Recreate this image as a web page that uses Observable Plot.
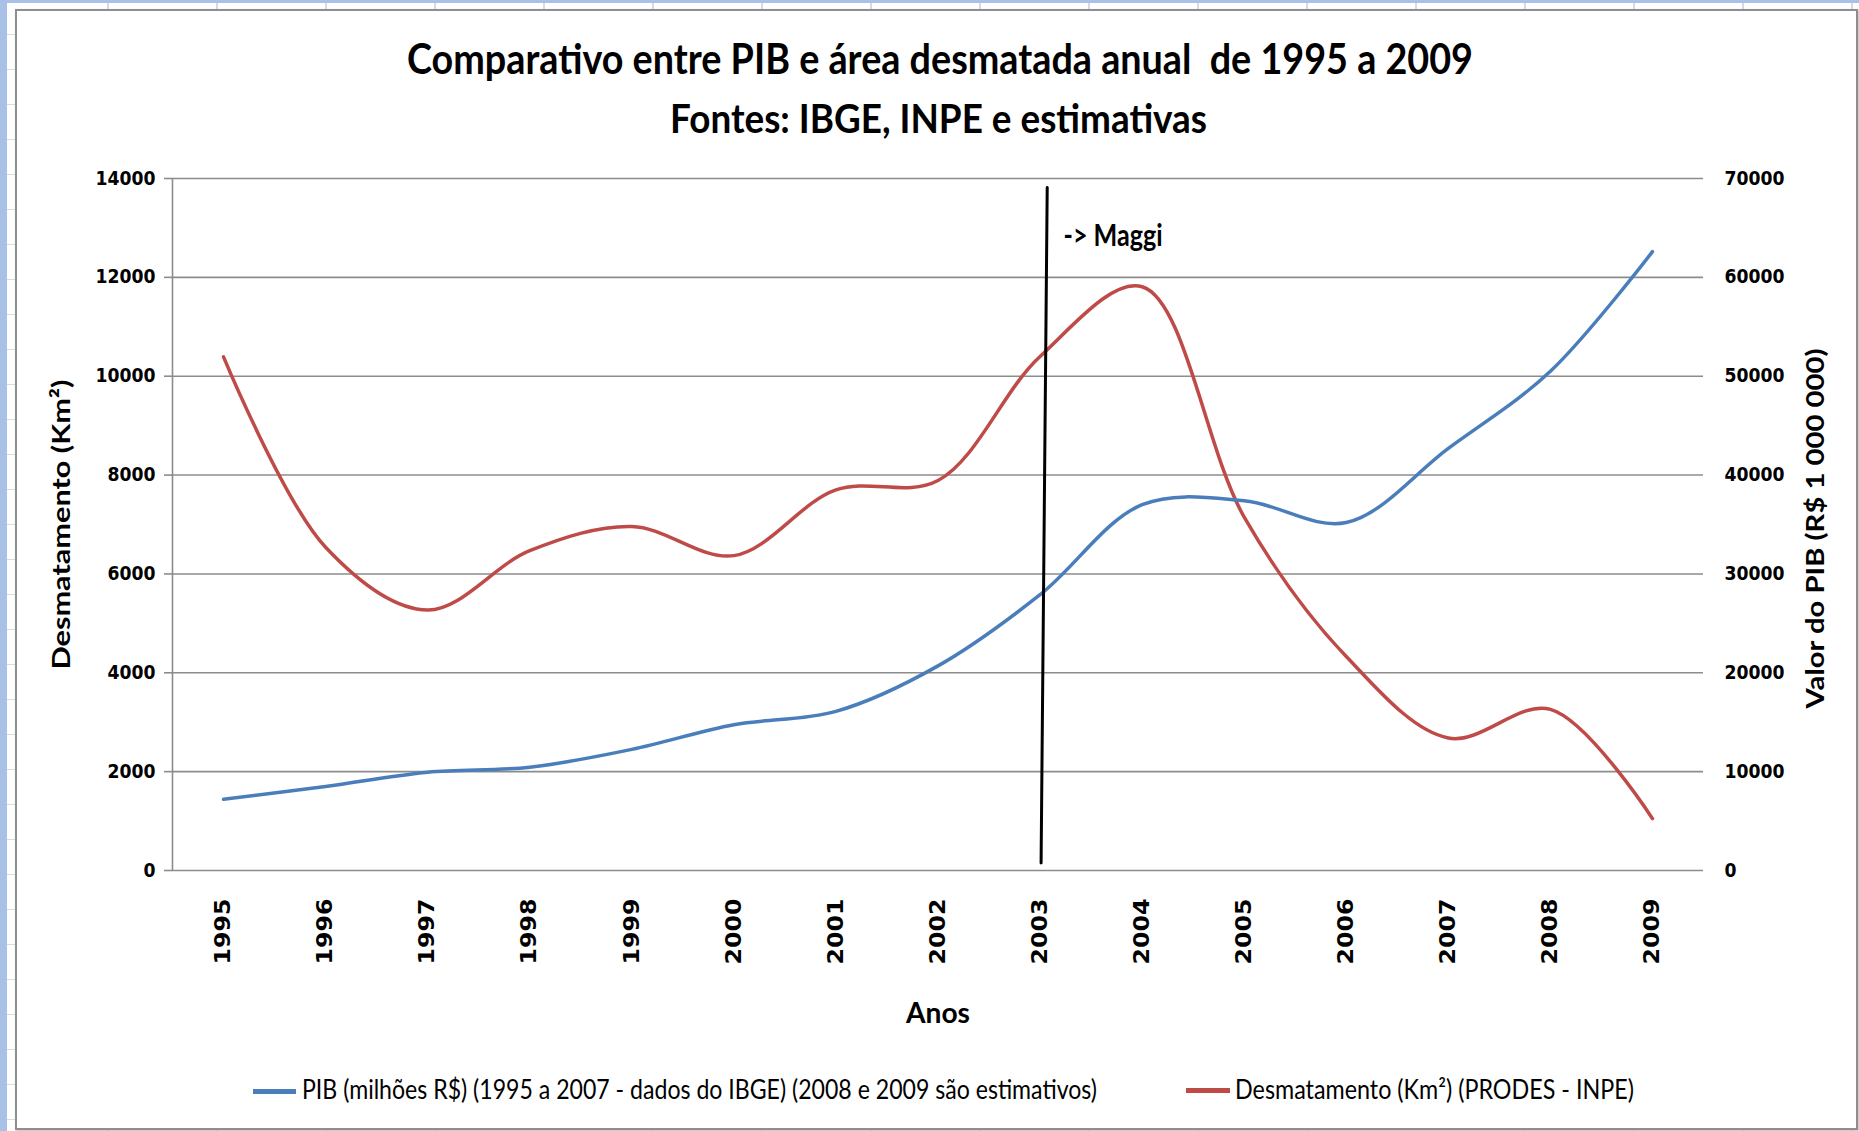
<!DOCTYPE html>
<html>
<head>
<meta charset="utf-8">
<script src="https://cdn.jsdelivr.net/npm/d3@7"></script>
<script src="https://cdn.jsdelivr.net/npm/@observablehq/plot@0.6"></script>
<style>
  html, body { margin: 0; padding: 0; width: 1859px; height: 1131px; overflow: hidden; }
  body {
    position: relative;
    background-color: #ffffff;
    background-image:
      linear-gradient(to right, #a9c1e6 0, #a9c1e6 7px, transparent 7px),
      linear-gradient(to bottom, #a9c1e6 0, #a9c1e6 3px, transparent 3px),
      repeating-linear-gradient(to right, transparent 0 107px, #d3dbe9 107px 109px),
      repeating-linear-gradient(to bottom, transparent 0 34px, #d3dbe9 34px 35px);
  }
  #box {
    position: absolute; left: 15px; top: 9px; width: 1843px; height: 1121px;
    box-sizing: border-box; background: #fff;
    border: 2px solid #8e8e8e; box-shadow: 1px 1px 2px #b8b8b8;
  }
  .txt { position: absolute; display: inline-block; white-space: pre; line-height: 1;
         font-family: Lato, "Open Sans", sans-serif; color: #000; transform-origin: left top; }
  .title { font-weight: bold; font-size: 42px; }
  .sub { font-weight: bold; font-size: 40px; }
  .leg { font-size: 26px; font-weight: normal; }
  .sw { position: absolute; height: 5px; }
  #chart { position: absolute; left: 0; top: 140px; }
</style>
</head>
<body>
<div id="box"></div>
<div id="t1" class="txt title" style="left:407px; top:37px;">Comparativo entre PIB e área desmatada anual  de 1995 a 2009</div>
<div id="t2" class="txt sub" style="left:670px; top:98px;">Fontes: IBGE, INPE e estimativas</div>
<div id="chart"></div>
<div class="sw" style="left:253px; top:1089px; width:43px; background:#4a7ebb;"></div>
<div id="l1" class="txt leg" style="left:302px; top:1076px;">PIB (milhões R$) (1995 a 2007 - dados do IBGE) (2008 e 2009 são estimativos)</div>
<div class="sw" style="left:1186px; top:1088px; width:44px; background:#be4b48;"></div>
<div id="l2" class="txt leg" style="left:1235px; top:1076px;">Desmatamento (Km²) (PRODES - INPE)</div>
<script>
// ---- data ----
const years = [1995, 1996, 1997, 1998, 1999, 2000, 2001, 2002, 2003, 2004, 2005, 2006, 2007, 2008, 2009];
const pib = [7200, 8500, 9950, 10450, 12250, 14750, 16100, 20700, 27900, 37000, 37400, 35200, 42700, 50500, 62600];
const desmatamento = [10390, 6540, 5270, 6470, 6960, 6370, 7700, 7890, 10400, 11810, 7150, 4330, 2680, 3260, 1050];
const leftTicks = [0, 2000, 4000, 6000, 8000, 10000, 12000, 14000];
const rightTicks = [0, 10000, 20000, 30000, 40000, 50000, 60000, 70000];
const axisRatio = 5; // right axis max / left axis max
const xDomain = [1994.5, 2009.5];
const maggiYears = [2003.01, 2003.07];
const maggiValues = [150, 13820];
const maggiLabel = [{year: 2003.23, value: 12640, text: "-> Maggi"}];

const rows = years.map((ano, i) => ({ano, pib: pib[i] / axisRatio, desm: desmatamento[i]}));
const maggi = maggiYears.map((x, i) => ({x, y: maggiValues[i]}));

const gray = "#8c8c8c";
const chart = Plot.plot({
  width: 1859,
  height: 910,
  marginTop: 38,
  marginBottom: 180,
  marginLeft: 172,
  marginRight: 156,
  style: {background: "transparent", color: "#000", overflow: "visible"},
  x: {domain: xDomain},
  y: {domain: [0, leftTicks[leftTicks.length - 1]]},
  marks: [
    Plot.ruleY(leftTicks, {stroke: gray, strokeWidth: 1.6}),
    Plot.ruleX([xDomain[0]], {y1: 0, y2: leftTicks[leftTicks.length - 1], stroke: gray, strokeWidth: 1.6}),
    Plot.axisY({anchor: "left", ticks: leftTicks, tickFormat: d => String(d), tickSize: 8, tickPadding: 9,
      stroke: gray, strokeWidth: 1.6, fontSize: 19, fontWeight: "bold", fontFamily: "DejaVu Sans", label: null}),
    Plot.axisY({anchor: "right", ticks: rightTicks.map(v => v / axisRatio), tickFormat: d => String(Math.round(d * axisRatio)),
      tickSize: 0, tickPadding: 21, fontSize: 19, fontWeight: "bold", fontFamily: "DejaVu Sans", label: null}),
    Plot.axisX({ticks: years, tickFormat: d => String(d), tickRotate: -90, tickSize: 0, tickPadding: 28,
      fontSize: 21, fontWeight: "bold", fontFamily: "DejaVu Sans", label: null}),
    Plot.line(rows, {x: "ano", y: "desm", curve: "catmull-rom", stroke: "#be4b48", strokeWidth: 3.5}),
    Plot.line(rows, {x: "ano", y: "pib", curve: "catmull-rom", stroke: "#4a7ebb", strokeWidth: 3.5}),
    Plot.line(maggi, {x: "x", y: "y", stroke: "#000", strokeWidth: 3}),
    Plot.text(maggiLabel, {x: "year", y: "value", text: "text", textAnchor: "start", lineAnchor: "bottom",
      fontSize: 30, fontWeight: "bold", fontFamily: "Lato", fill: "#000", ariaDescription: "maggi"}),
    Plot.text(["Anos"], {text: d => d, frameAnchor: "bottom", dy: 152, textAnchor: "middle", lineAnchor: "bottom",
      fontSize: 29, fontWeight: "bold", fontFamily: "Lato", fill: "#000", ariaDescription: "xlabel"}),
    Plot.text(["Desmatamento (Km²)"], {text: d => d, frameAnchor: "left", dx: -111, rotate: -90,
      textAnchor: "middle", lineAnchor: "middle",
      fontSize: 25, fontWeight: "bold", fontFamily: "Lato", fill: "#000", ariaDescription: "ylabel-left"}),
    Plot.text(["Valor do PIB (R$ 1 000 000)"], {text: d => d, frameAnchor: "right", dx: 112, dy: 4, rotate: -90,
      textAnchor: "middle", lineAnchor: "middle",
      fontSize: 25, fontWeight: "bold", fontFamily: "Lato", fill: "#000", ariaDescription: "ylabel-right"})
  ]
});
document.getElementById("chart").appendChild(chart);

function findTexts(sel) {
  const out = [];
  chart.querySelectorAll(sel).forEach(el => {
    if (el.tagName.toLowerCase() === "text") out.push(el);
    else out.push(...el.querySelectorAll("text"));
  });
  return out;
}
function setLen(sel, f) {
  findTexts(sel).forEach(t => {
    const len = f(t);
    const spans = t.querySelectorAll("tspan");
    const targets = spans.length ? [...spans] : [t];
    targets.forEach(el => {
      el.setAttribute("textLength", len);
      el.setAttribute("lengthAdjust", "spacingAndGlyphs");
    });
  });
}
setLen('[aria-label="x-axis tick label"]', () => 66);
setLen('[aria-label="y-axis tick label"]', t => 12 * t.textContent.length);
setLen('[aria-description="maggi"]', () => 99);
setLen('[aria-description="xlabel"]', () => 64);
setLen('[aria-description="ylabel-left"]', () => 290);
setLen('[aria-description="ylabel-right"]', () => 360);

function fit(id, w) {
  const el = document.getElementById(id);
  const r = el.getBoundingClientRect().width;
  el.style.transform = `scaleX(${w / r})`;
}
fit("t1", 1066);
fit("t2", 537);
fit("l1", 795);
fit("l2", 399);
</script>
</body>
</html>
